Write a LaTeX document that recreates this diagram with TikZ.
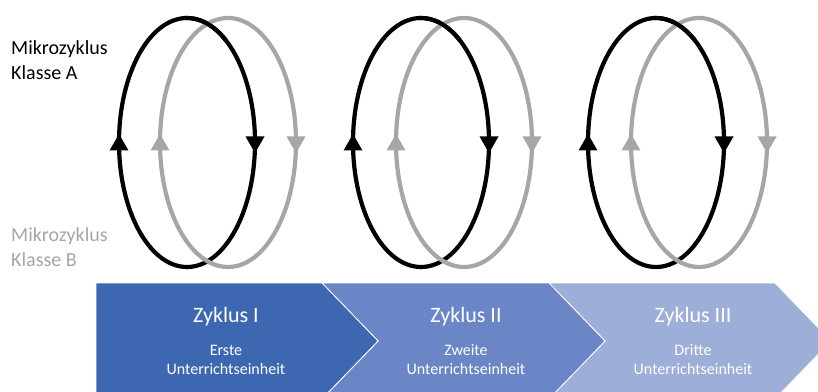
\documentclass[tikz,border=0pt]{standalone}
\usepackage{fontspec}
\setmainfont{Carlito}
\definecolor{ringgrey}{HTML}{A6A6A6}
\definecolor{chevA}{HTML}{3E67B1}
\definecolor{chevB}{HTML}{6B86C7}
\definecolor{chevC}{HTML}{9DAED8}
\tikzset{
  ringA/.style={draw=black, line width=4.2pt},
  ringB/.style={draw=ringgrey, line width=4.2pt},
  chev/.style={draw=white, line width=0.8pt},
  bigtxt/.style={text=white, inner sep=0pt, font=\fontsize{22}{26}\selectfont},
  smalltxt/.style={text=white, inner sep=0pt, align=center, font=\fontsize{16}{19}\selectfont},
  sidetxt/.style={inner sep=0pt, anchor=west, align=left, font=\fontsize{20}{25}\selectfont}
}
\newcommand{\ringpair}[3]{% #1 black cx, #2 grey cx, #3 name
  \draw[ringA] (#1,248.5) ellipse [x radius=68, y radius=124.5];
  \draw[ringB] (#2,248.5) ellipse [x radius=68, y radius=124.5];
  \draw[ringA] (#1,248.5) ++(55:68 and 124.5) arc[start angle=55, end angle=92, x radius=68, y radius=124.5];
  % arrowheads
  \fill[black] (#1-68,257) -- (#1-68-9.5,240.5) -- (#1-68+9.5,240.5) -- cycle;
  \fill[black] (#1+68,238) -- (#1+68-9.5,254.5) -- (#1+68+9.5,254.5) -- cycle;
  \fill[ringgrey] (#2-68,257) -- (#2-68-9.5,240.5) -- (#2-68+9.5,240.5) -- cycle;
  \fill[ringgrey] (#2+68,238) -- (#2+68-9.5,254.5) -- (#2+68+9.5,254.5) -- cycle;
  \coordinate (#3) at (#1,248.5);
}
\begin{document}
\begin{tikzpicture}[x=1pt,y=1pt]
\useasboundingbox (0,0) rectangle (818,391);
\begin{scope}
\clip (0,0) rectangle (818,391);
% chevrons
\fill[chevC, chev] (549,108) -- (775,108) -- (831,50) -- (775,-8) -- (549,-8) -- (605,50) -- cycle;
\fill[chevB, chev] (322,108) -- (549,108) -- (605,50) -- (549,-8) -- (322,-8) -- (378,50) -- cycle;
\fill[chevA, chev] (96,108) -- (322,108) -- (378,50) -- (322,-8) -- (96,-8) -- cycle;
\end{scope}
\node[bigtxt] (z1) at (226,74) {Zyklus I};
\node[smalltxt] (u1) at (226,31.5) {Erste\\Unterrichtseinheit};
\node[bigtxt] (z2) at (466,74) {Zyklus II};
\node[smalltxt] (u2) at (466,31.5) {Zweite\\Unterrichtseinheit};
\node[bigtxt] (z3) at (693,74) {Zyklus III};
\node[smalltxt] (u3) at (693,31.5) {Dritte\\Unterrichtseinheit};
% rings
\ringpair{187}{228}{r1}
\ringpair{421}{464}{r2}
\ringpair{656}{699}{r3}
% side labels
\node[sidetxt] (la) at (11,331) {Mikrozyklus\\Klasse A};
\node[sidetxt, text=ringgrey] (lb) at (11,143.5) {Mikrozyklus\\Klasse B};
\end{tikzpicture}
\end{document}
